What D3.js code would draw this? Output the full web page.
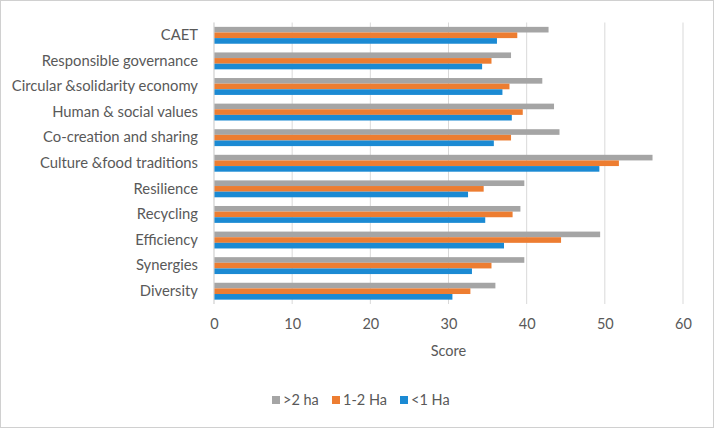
<!DOCTYPE html>
<html><head><meta charset="utf-8">
<script src="https://cdn.jsdelivr.net/npm/d3@7"></script>
<style>body{margin:0;background:#fff}svg{display:block}text{font-family:Lato,"Liberation Sans",Arial,sans-serif}</style>
</head><body>
<svg id="c" width="714" height="428"></svg>
<script>
const categories = ["CAET","Responsible governance","Circular &solidarity economy","Human & social values","Co-creation and sharing","Culture &food traditions","Resilience","Recycling","Efficiency","Synergies","Diversity"];
const seriesNames = [">2 ha","1-2 Ha","<1 Ha"];
const over2 = [42.8,38.0,42.0,43.5,44.2,56.1,39.7,39.2,49.4,39.7,36.0];
const oneToTwo = [38.8,35.5,37.8,39.5,38.0,51.8,34.5,38.2,44.4,35.5,32.8];
const under1 = [36.2,34.3,36.9,38.1,35.8,49.3,32.5,34.7,37.1,33.0,30.5];
const xTicks = [0,10,20,30,40,50,60];
const colors = ["#A5A5A5","#ED7D31","#1B8AD3"];
const series = [over2, oneToTwo, under1];
const FONT = "Lato, 'Liberation Sans', Arial, sans-serif";

const svg = d3.select("#c");
svg.append("rect").attr("x",0.5).attr("y",0.5).attr("width",713).attr("height",427).attr("fill","#fff").attr("stroke","#D0D0D0");

const x = d3.scaleLinear().domain([0,60]).range([214,683]);
const y = d3.scaleBand().domain(categories).range([22.5,304]).paddingInner(0.34).paddingOuter(0.17);
const sub = d3.scaleBand().domain(seriesNames).range([0,y.bandwidth()]);

svg.append("g").selectAll("line").data(xTicks).join("line")
  .attr("x1",d=>x(d)).attr("x2",d=>x(d)).attr("y1",22.5).attr("y2",304)
  .attr("stroke","#D9D9D9").attr("stroke-width",1);

seriesNames.forEach((s,i)=>{
  svg.append("g").selectAll("rect").data(categories).join("rect")
    .attr("x",x(0)).attr("y",c=>y(c)+sub(s)).attr("height",sub.bandwidth())
    .attr("width",(c,j)=>x(series[i][j])-x(0)).attr("fill",colors[i]);
});

svg.append("line").attr("x1",x(0)).attr("x2",x(0)).attr("y1",22.5).attr("y2",304).attr("stroke","#D9D9D9");

const xa = d3.axisBottom(x).tickValues(xTicks).tickSize(0).tickPadding(0);
const gx = svg.append("g").attr("transform","translate(0,319)").call(xa);
gx.select(".domain").remove();
gx.selectAll("text").attr("fill","#595959").attr("font-size",14.5).attr("font-family",FONT);

const ya = d3.axisLeft(y).tickSize(0).tickPadding(0);
const gy = svg.append("g").attr("transform","translate(198,0)").call(ya);
gy.select(".domain").remove();
gy.selectAll("text").attr("fill","#595959").attr("font-size",14.8).attr("font-family",FONT);

svg.append("text").attr("x",x(30)).attr("y",356).attr("text-anchor","middle").attr("fill","#595959").attr("font-size",14.5).attr("font-family",FONT).text("Score");

const legX = [272,332,400];
const lg = svg.append("g");
seriesNames.forEach((s,i)=>{
  lg.append("rect").attr("x",legX[i]).attr("y",396).attr("width",8).attr("height",8).attr("fill",colors[i]);
  lg.append("text").attr("x",legX[i]+11).attr("y",405).attr("fill","#595959").attr("font-size",14.5).attr("font-family",FONT).text(s);
});
</script>
</body></html>
